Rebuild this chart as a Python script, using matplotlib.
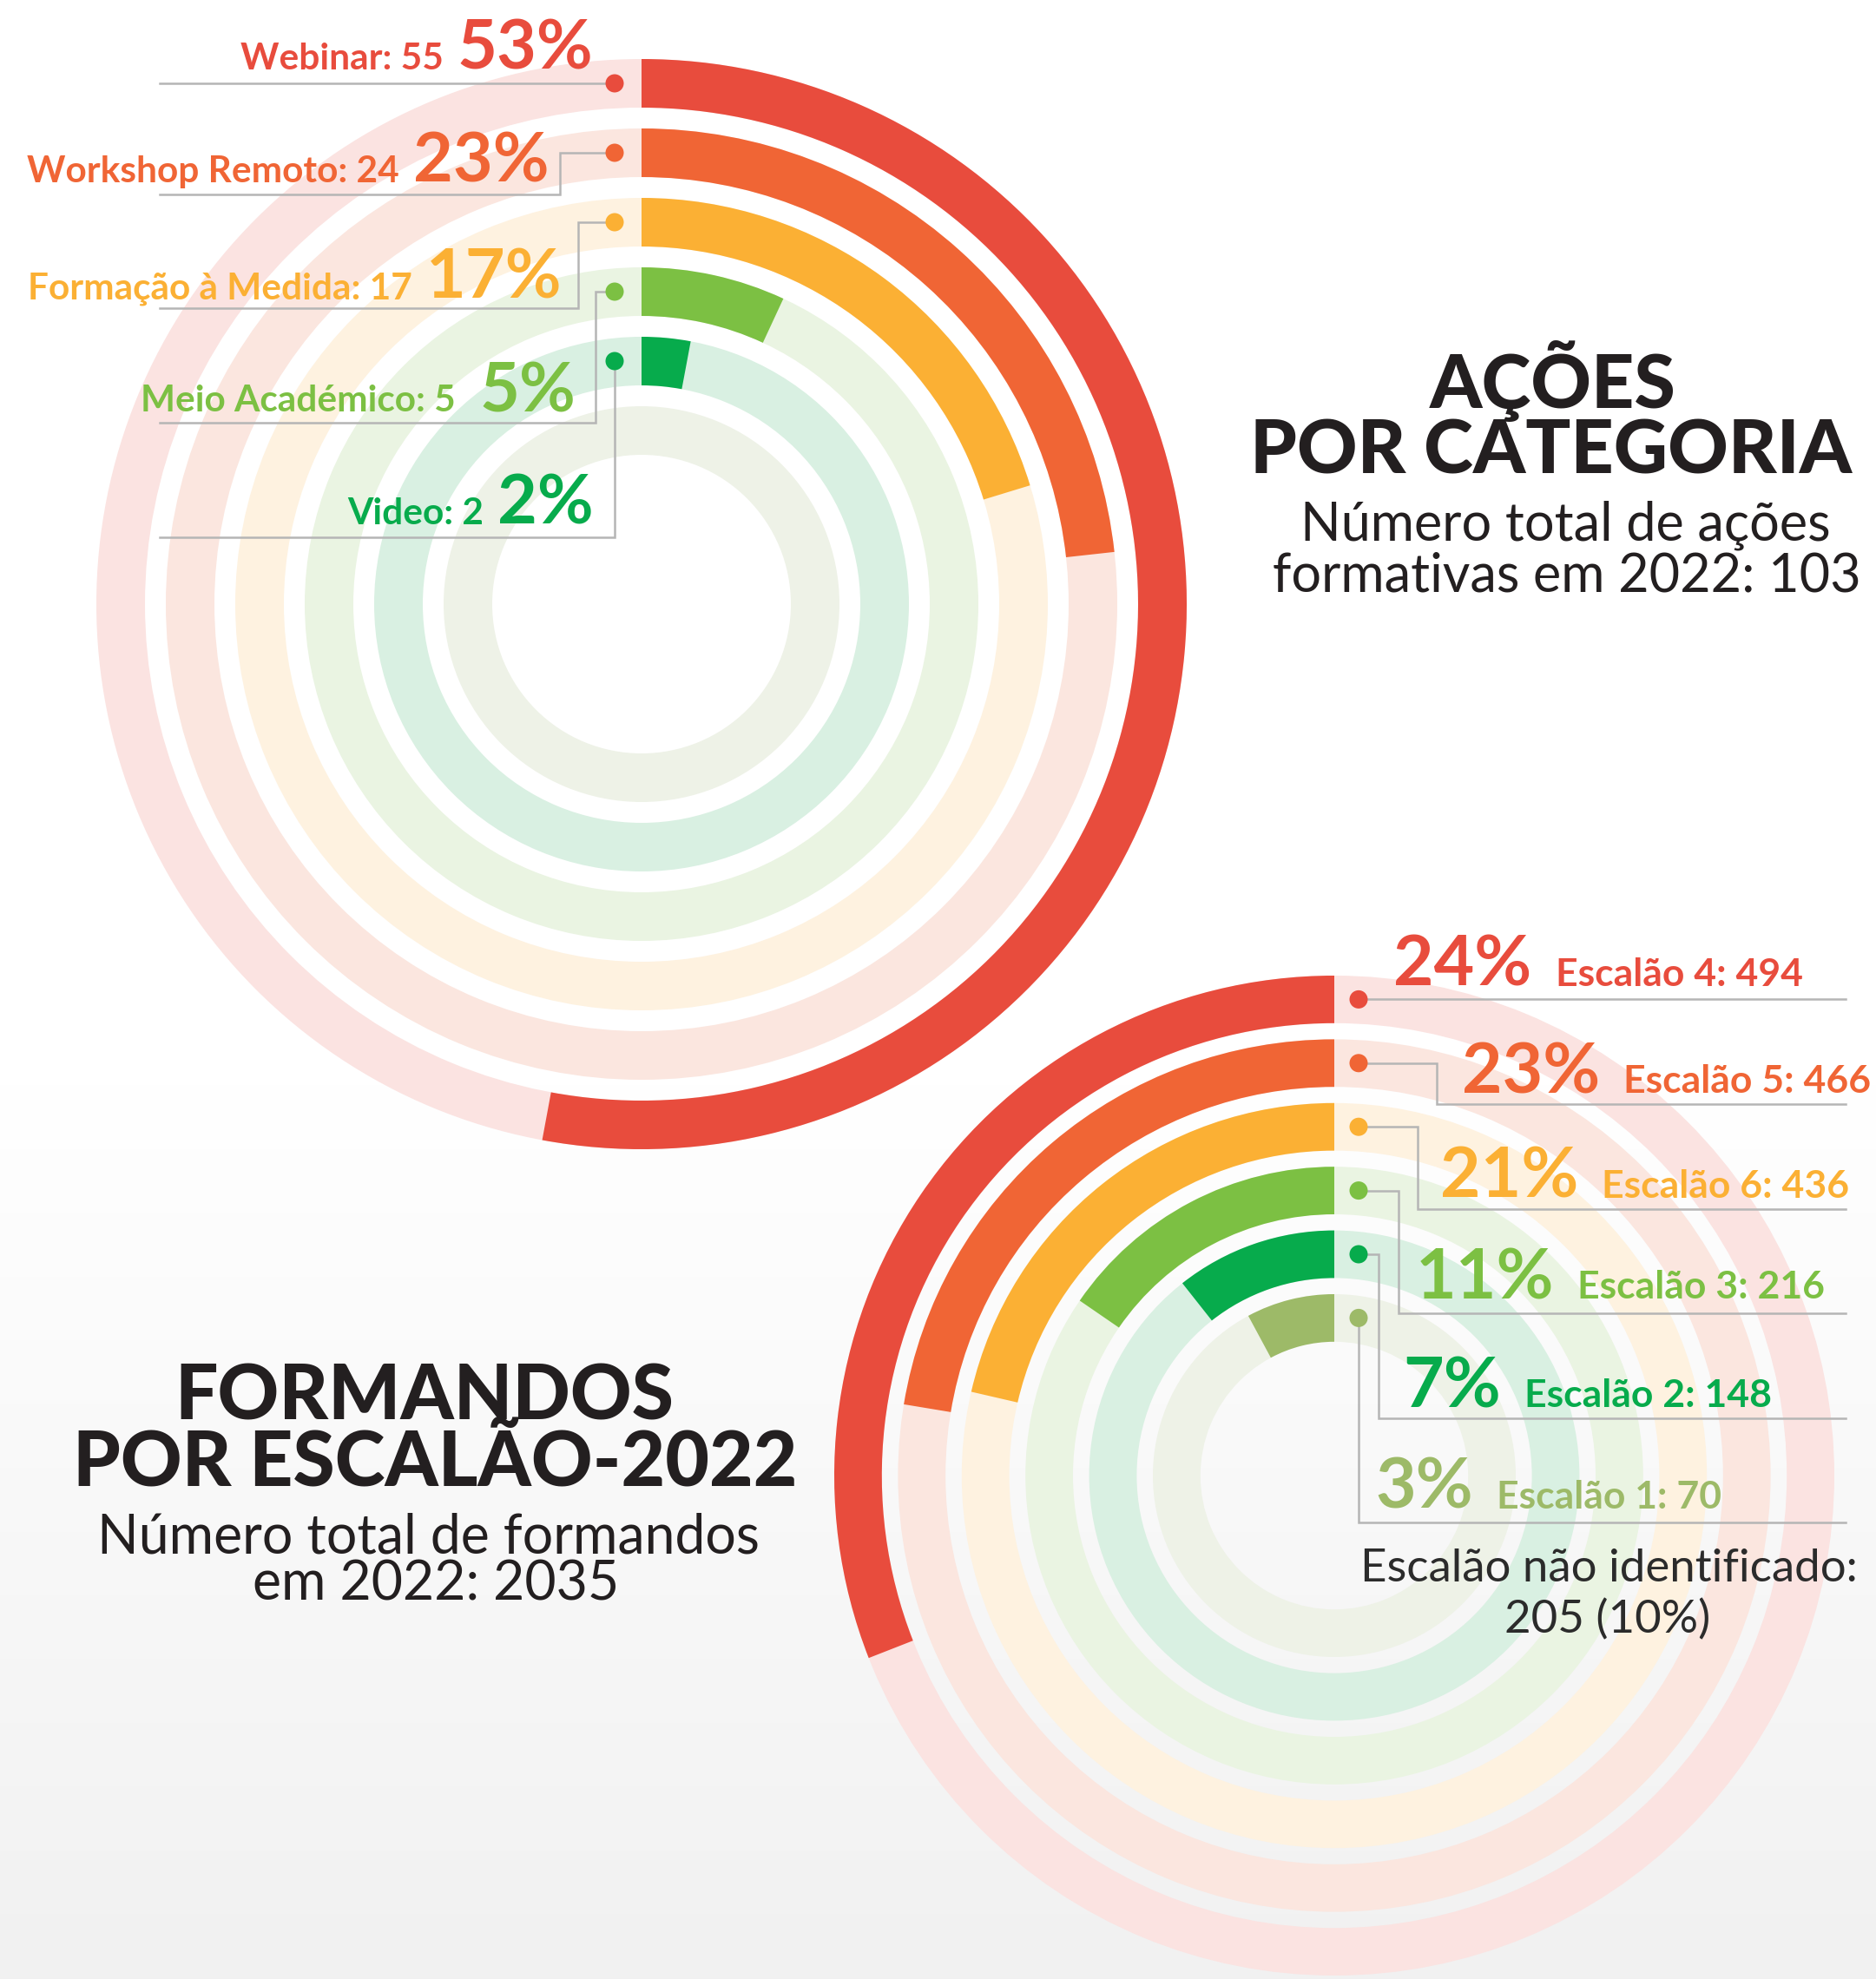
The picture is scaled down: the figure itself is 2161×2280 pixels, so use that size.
import matplotlib
matplotlib.use("Agg")
import matplotlib.pyplot as plt
from matplotlib.patches import Wedge, Circle
import numpy as np

# ---------------- data ----------------
top_categories = ["Webinar", "Workshop Remoto", "Formação à Medida", "Meio Académico", "Video"]
top_counts = [55, 24, 17, 5, 2]
top_pct_labels = ["53%", "23%", "17%", "5%", "2%"]
top_arc_deg = [190.5, 83.7, 73.0, 24.9, 10.6]      # arc lengths as drawn in the picture
top_total = 103

bottom_categories = ["Escalão 4", "Escalão 5", "Escalão 6", "Escalão 3", "Escalão 2", "Escalão 1"]
bottom_counts = [494, 466, 436, 216, 148, 70]
bottom_pct_labels = ["24%", "23%", "21%", "11%", "7%", "3%"]
bottom_arc_deg = [111.4, 80.6, 77.0, 55.5, 38.3, 28.3]  # arc lengths as drawn in the picture
bottom_total = 2035
unidentified_count = 205
unidentified_pct = "10%"

# ---------------- styles ----------------
RED, ORANGE, YELLOW, GREEN, DGREEN, OLIVE = "#e84c3d", "#f06535", "#fbb034", "#7cc043", "#07ab4c", "#9dba68"
T_RED, T_ORANGE, T_YELLOW, T_GREEN, T_DGREEN, T_OLIVE = "#fbe3e1", "#fbe6df", "#fef2e0", "#eaf4e2", "#d9f0e2", "#eef2e7"
top_bar_colors = [RED, ORANGE, YELLOW, GREEN, DGREEN]
top_track_colors = [T_RED, T_ORANGE, T_YELLOW, T_GREEN, T_DGREEN, T_OLIVE]
bot_bar_colors = [RED, ORANGE, YELLOW, GREEN, DGREEN, OLIVE]
bot_track_colors = [T_RED, T_ORANGE, T_YELLOW, T_GREEN, T_DGREEN, T_OLIVE]
LINE = "#b5b5b5"
DARK = "#231f20"
FAM = ["Lato", "DejaVu Sans"]

W, H = 2161, 2280
fig = plt.figure(figsize=(W / 100, H / 100), dpi=100)
ax = fig.add_axes([0, 0, 1, 1])
ax.set_xlim(0, W)
ax.set_ylim(H, 0)
ax.axis("off")

# background gradient
ys = np.arange(H)
vals = np.where(ys < 1250, 1.0, 1.0 - 0.055 * (ys - 1250) / (H - 1250))
grad = np.repeat(vals[:, None], 2, axis=1)
grad = np.dstack([grad, grad, grad])
ax.imshow(grad, extent=[0, W, H, 0], aspect="auto", zorder=0, interpolation="bilinear")

# ---------------- top chart ----------------
tcx, tcy = 739, 696
tR, tstep, tthick = 628, 80, 56
for k, tc in enumerate(top_track_colors):
    r = tR - k * tstep
    ax.add_patch(Wedge((tcx, tcy), r, 0, 360, width=tthick, facecolor=tc, lw=0, zorder=1))
for k, (arc, c) in enumerate(zip(top_arc_deg, top_bar_colors)):
    r = tR - k * tstep
    ax.add_patch(Wedge((tcx, tcy), r, -90, -90 + arc, width=tthick, facecolor=c, lw=0, zorder=2))

top_dot_x = 708
top_line_left = 184
top_bend_x = [None, 644.6, 665.5, 686.3, None]
top_bend_y = [None, 223.6, 355, 486.7, 619]
top_text_base = [79.6, 210, 344, 474.5, 604]
top_pct_right = [683.4, 632.5, 647, 663, 683.4]
top_gap = [16, 16, 16, 27, 16]

fig.canvas.draw()
renderer = fig.canvas.get_renderer()

for k in range(len(top_categories)):
    r_mid = tR - k * tstep - tthick / 2
    dy = tcy - r_mid
    c = top_bar_colors[k]
    if k == 0:
        xs, ysl = [top_dot_x, top_line_left], [dy, dy]
    elif k == len(top_categories) - 1:
        xs = [top_dot_x, top_dot_x, top_line_left]
        ysl = [dy, top_bend_y[k], top_bend_y[k]]
    else:
        xs = [top_dot_x, top_bend_x[k], top_bend_x[k], top_line_left]
        ysl = [dy, dy, top_bend_y[k], top_bend_y[k]]
    ax.plot(xs, ysl, color=LINE, lw=1.8, zorder=3, solid_joinstyle="miter")
    ax.add_patch(Circle((top_dot_x, dy), 10.5, facecolor=c, lw=0, zorder=4))
    pt = ax.text(top_pct_right[k], top_text_base[k], top_pct_labels[k], ha="right", va="baseline",
                 fontsize=57, fontweight="bold", color=c, family=FAM, zorder=5)
    bb = pt.get_window_extent(renderer)
    ax.text(bb.x0 - top_gap[k], top_text_base[k], f"{top_categories[k]}: {top_counts[k]}", ha="right",
            va="baseline", fontsize=30.5, fontweight="bold", color=c, family=FAM, zorder=5)

# top titles
ax.text(1789, 470, "AÇÕES", ha="center", va="baseline", fontsize=62, fontweight="black",
        color=DARK, family=FAM)
ax.text(1787, 545, "POR CATEGORIA", ha="center", va="baseline", fontsize=62, fontweight="black",
        color=DARK, family=FAM)
ax.text(1803, 622, "Número total de ações", ha="center", va="baseline", fontsize=44,
        fontweight="normal", color=DARK, family=FAM)
ax.text(1805, 681, f"formativas em 2022: {top_total}", ha="center", va="baseline", fontsize=44,
        fontweight="normal", color=DARK, family=FAM)

# ---------------- bottom chart ----------------
bcx, bcy = 1537, 1700
bR, bstep, bthick = 576, 73.4, 54.8
for k, tc in enumerate(bot_track_colors):
    r = bR - k * bstep
    ax.add_patch(Wedge((bcx, bcy), r, 0, 360, width=bthick, facecolor=tc, lw=0, zorder=1))
for k, (arc, c) in enumerate(zip(bottom_arc_deg, bot_bar_colors)):
    r = bR - k * bstep
    ax.add_patch(Wedge((bcx, bcy), r, -90 - arc, -90, width=bthick, facecolor=c, lw=0, zorder=2))

bot_dot_x = 1565
bot_line_right = 2126
bot_bend_x = [None, 1655, 1633, 1610.5, 1587.7, None]
bot_bend_y = [None, 1272, 1392.7, 1512.8, 1633.5, 1754]
bot_text_base = [1136, 1259.4, 1380, 1496.4, 1621.4, 1737.7]
bot_pct_left = [1605.4, 1684, 1658.5, 1630.7, 1616, 1584]

for k in range(len(bottom_categories)):
    r_mid = bR - k * bstep - bthick / 2
    dy = bcy - r_mid
    c = bot_bar_colors[k]
    if k == 0:
        xs, ysl = [bot_dot_x, bot_line_right], [dy, dy]
    elif k == len(bottom_categories) - 1:
        xs = [bot_dot_x, bot_dot_x, bot_line_right]
        ysl = [dy, bot_bend_y[k], bot_bend_y[k]]
    else:
        xs = [bot_dot_x, bot_bend_x[k], bot_bend_x[k], bot_line_right]
        ysl = [dy, dy, bot_bend_y[k], bot_bend_y[k]]
    ax.plot(xs, ysl, color=LINE, lw=1.8, zorder=3, solid_joinstyle="miter")
    ax.add_patch(Circle((bot_dot_x, dy), 10.5, facecolor=c, lw=0, zorder=4))
    pt = ax.text(bot_pct_left[k], bot_text_base[k], bottom_pct_labels[k], ha="left", va="baseline",
                 fontsize=58, fontweight="bold", color=c, family=FAM, zorder=5)
    bb = pt.get_window_extent(renderer)
    ax.text(bb.x1 + 27, bot_text_base[k], f"{bottom_categories[k]}: {bottom_counts[k]}", ha="left",
            va="baseline", fontsize=32, fontweight="bold", color=c, family=FAM, zorder=5)

ax.text(1853, 1821.6, "Escalão não identificado:", ha="center", va="baseline", fontsize=38,
        fontweight="normal", color="#2b2b2b", family=FAM, zorder=5)
ax.text(1852, 1881, f"{unidentified_count} ({unidentified_pct})", ha="center", va="baseline",
        fontsize=38, fontweight="normal", color="#2b2b2b", family=FAM, zorder=5)

# bottom titles
ax.text(489, 1636, "FORMANDOS", ha="center", va="baseline", fontsize=63, fontweight="black",
        color=DARK, family=FAM)
ax.text(501, 1712, "POR ESCALÃO-2022", ha="center", va="baseline", fontsize=63, fontweight="black",
        color=DARK, family=FAM)
ax.text(493, 1789, "Número total de formandos", ha="center", va="baseline", fontsize=45,
        fontweight="normal", color=DARK, family=FAM)
ax.text(502, 1844, f"em 2022: {bottom_total}", ha="center", va="baseline", fontsize=45,
        fontweight="normal", color=DARK, family=FAM)

fig.savefig("out.png", dpi=100)
